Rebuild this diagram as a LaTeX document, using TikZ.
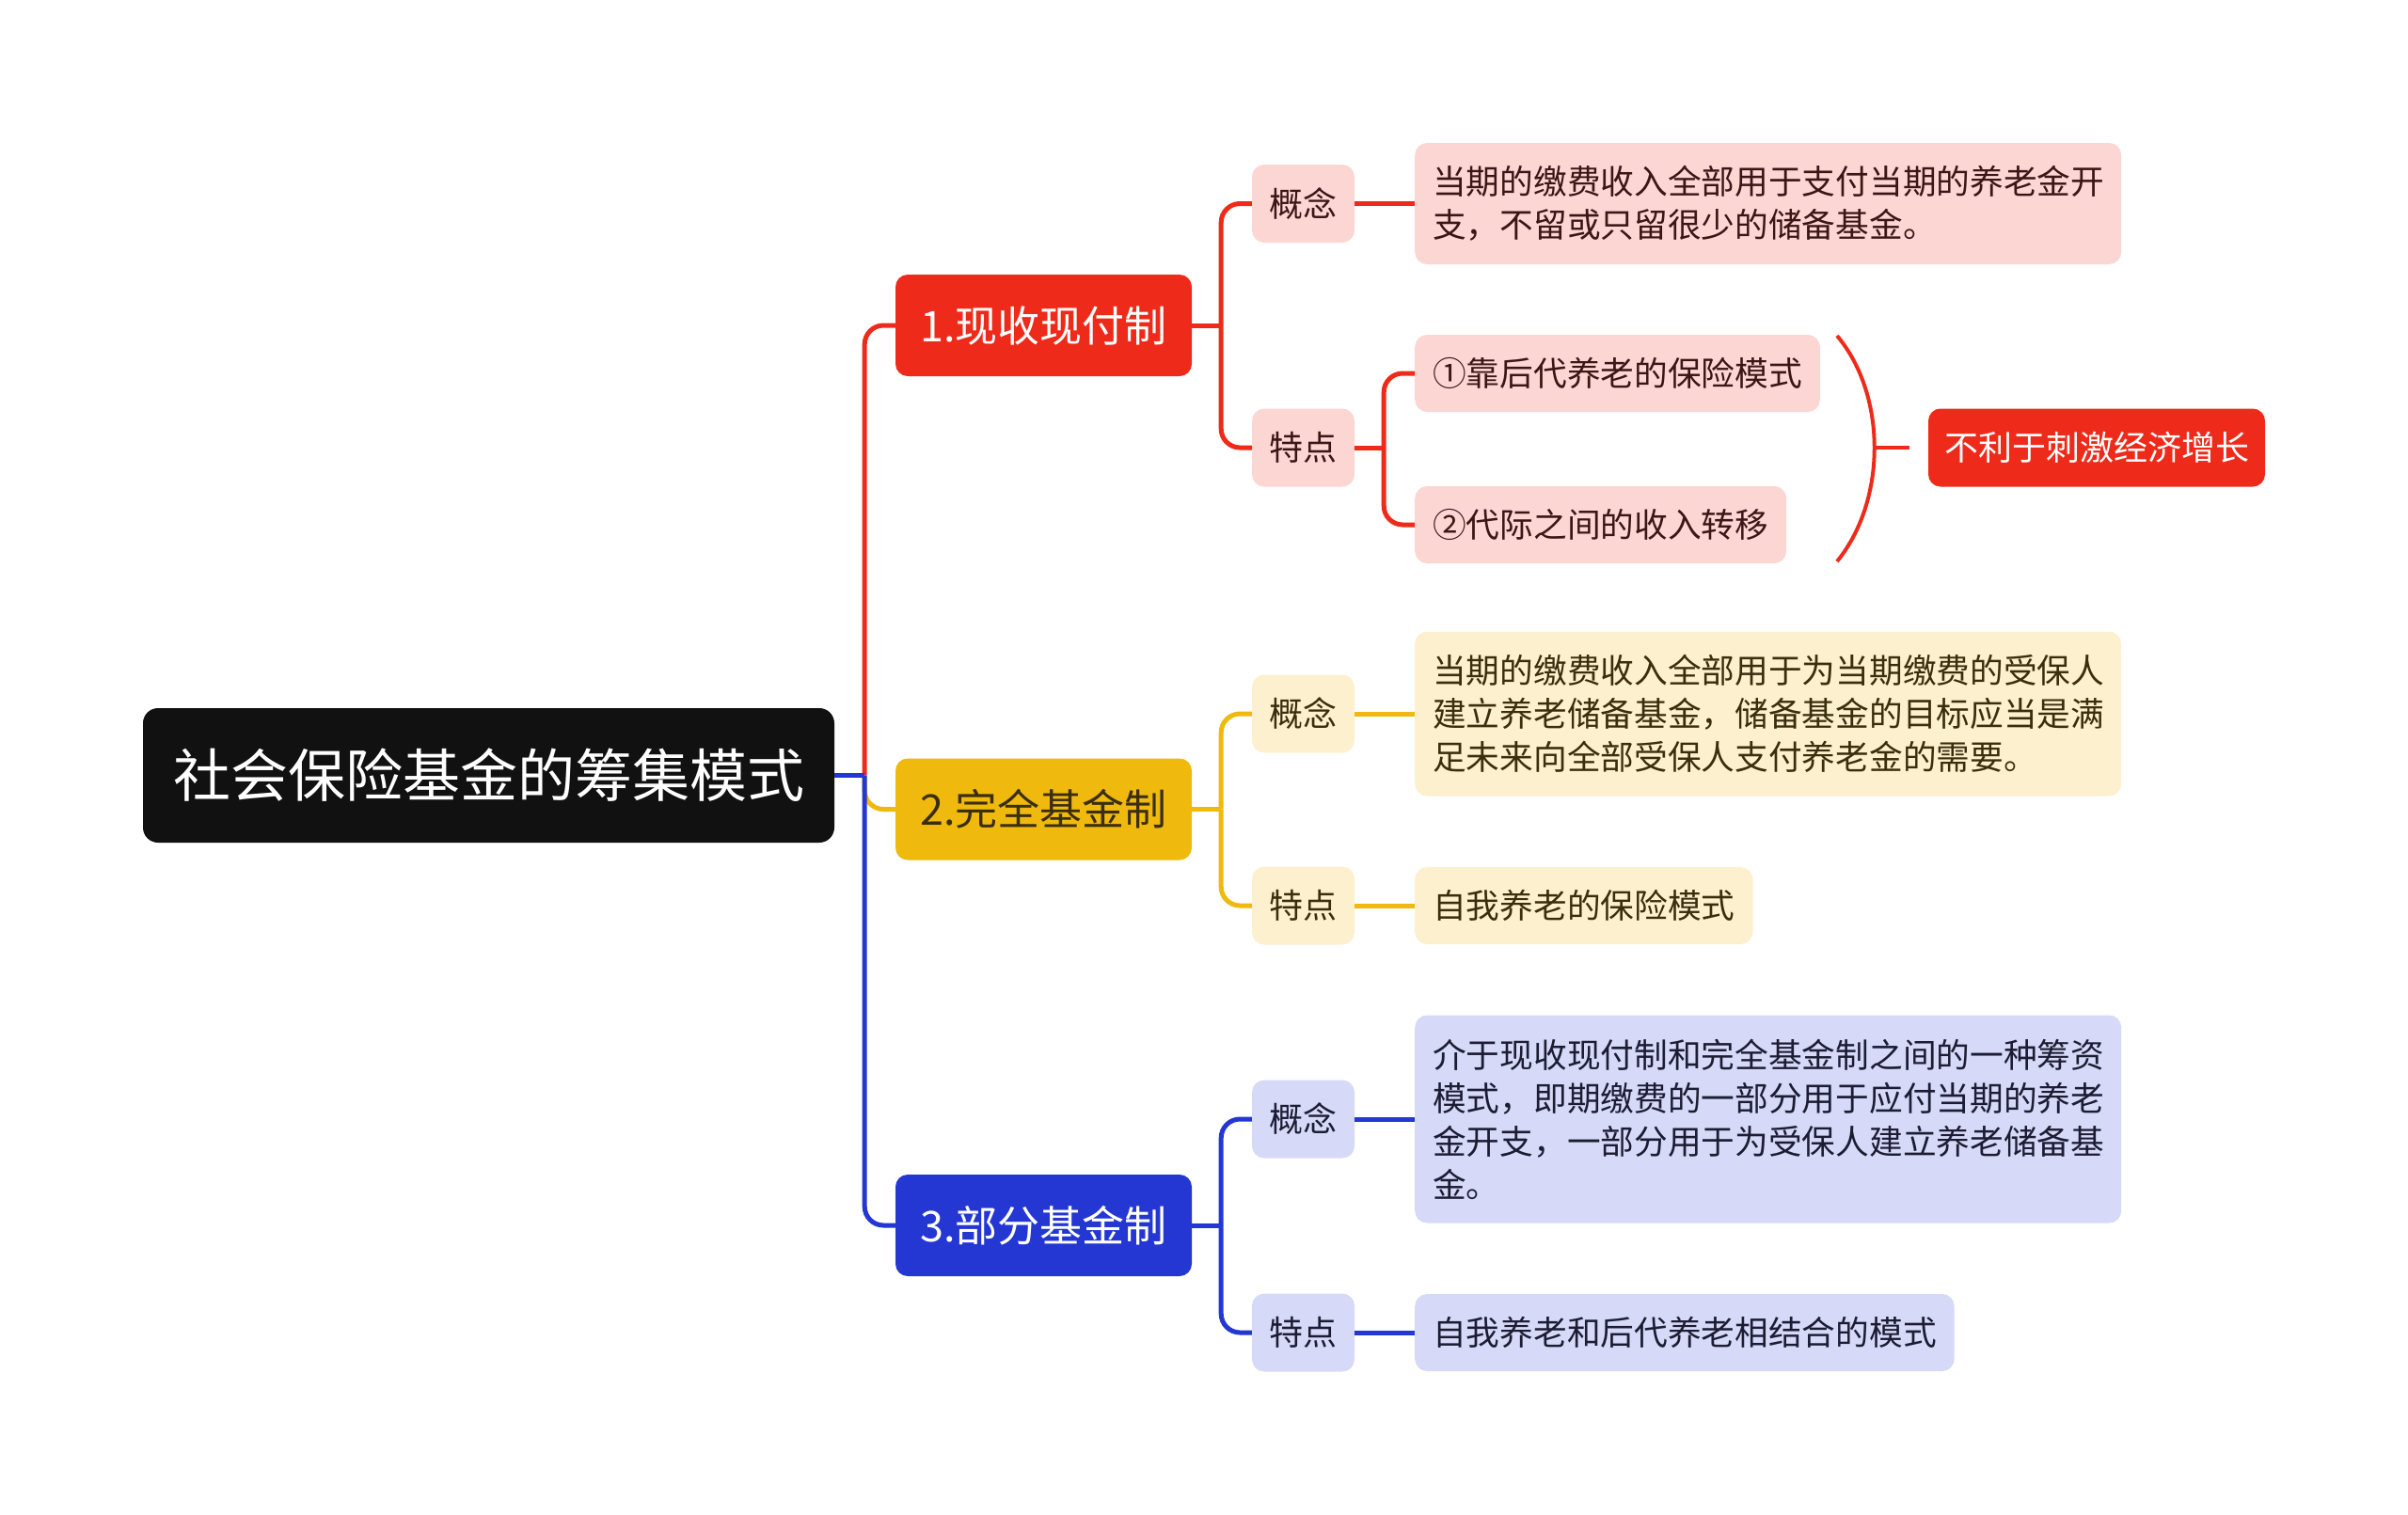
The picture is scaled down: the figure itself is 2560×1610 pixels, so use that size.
\documentclass[tikz,border=0pt]{standalone}
\usepackage{fontspec}
\setmainfont{Noto Sans CJK SC}
\definecolor{cred}{HTML}{EE2B1A}
\definecolor{cyel}{HTML}{F0B90E}
\definecolor{cblu}{HTML}{2437D3}
\definecolor{lred}{HTML}{FCD6D3}
\definecolor{lyel}{HTML}{FDF0CF}
\definecolor{lblu}{HTML}{D6D9F7}
\definecolor{tred}{HTML}{3A1616}
\definecolor{tyel}{HTML}{3A2E0E}
\definecolor{tblu}{HTML}{1C1C33}
\definecolor{rootbg}{HTML}{111111}
\tikzset{
  rootbox/.style={fill=rootbg, text=white, rounded corners=16pt, minimum width=735pt, minimum height=143pt, inner sep=0pt, font=\fontsize{61}{70}\selectfont},
  lvlbox/.style={rounded corners=13pt, minimum width=315pt, minimum height=108pt, inner sep=0pt, font=\fontsize{45}{54}\selectfont},
  tagbox/.style={rounded corners=13pt, minimum width=109pt, minimum height=83pt, inner sep=0pt, font=\fontsize{36}{46}\selectfont},
  txtbox/.style={rounded corners=13pt, inner xsep=19pt, inner ysep=0pt, minimum height=82pt, align=left, font=\fontsize{35.7}{46}\selectfont},
  conn/.style={line width=5pt, rounded corners=20pt},
}
\begin{document}
\begin{tikzpicture}[x=1pt,y=-1pt]
\useasboundingbox (0,0) rectangle (2560,1610);
% root
\node[rootbox] (root) at (519.5,824.5) {社会保险基金的筹集模式};
% level 1
\node[lvlbox, fill=cred, text=white] (n1) at (1109.5,346) {1.现收现付制};
\node[lvlbox, fill=cyel, text=tyel] (n2) at (1109.5,860.5) {2.完全基金制};
\node[lvlbox, fill=cblu, text=white] (n3) at (1109.5,1303) {3.部分基金制};
% branch 1
\node[tagbox, fill=lred, text=tred] (c1) at (1385.5,216.5) {概念};
\node[tagbox, fill=lred, text=tred] (t1) at (1385.5,476) {特点};
\node[txtbox, fill=lred, text=tred, anchor=west, text width=713pt, minimum height=129pt] (c1t) at (1504,216.5) {当期的缴费收入全部用于支付当期的养老金开\\支，不留或只留很少的储备基金。};
\node[txtbox, fill=lred, text=tred, anchor=west] (t1a) at (1504,397) {①靠后代养老的保险模式};
\node[txtbox, fill=lred, text=tred, anchor=west] (t1b) at (1504,558) {②代际之间的收入转移};
\node[tagbox, fill=cred, text=white, minimum width=358pt] (sum) at (2229,476) {不利于刺激经济增长};
% branch 2
\node[tagbox, fill=lyel, text=tyel] (c2) at (1385.5,759) {概念};
\node[tagbox, fill=lyel, text=tyel] (t2) at (1385.5,963) {特点};
\node[txtbox, fill=lyel, text=tyel, anchor=west, text width=713pt, minimum height=175pt] (c2t) at (1504,759) {当期的缴费收入全部用于为当期缴费的受保人\\建立养老储备基金，储备基金的目标应当是满\\足未来向全部受保人支付养老金的需要。};
\node[txtbox, fill=lyel, text=tyel, anchor=west] (t2t) at (1504,963) {自我养老的保险模式};
% branch 3
\node[tagbox, fill=lblu, text=tblu] (c3) at (1385.5,1190) {概念};
\node[tagbox, fill=lblu, text=tblu] (t3) at (1385.5,1417) {特点};
\node[txtbox, fill=lblu, text=tblu, anchor=west, text width=713pt, minimum height=221pt] (c3t) at (1504,1190) {介于现收现付制和完全基金制之间的一种筹资\\模式，即期缴费的一部分用于应付当期的养老\\金开支，一部分用于为受保人建立养老储备基\\金。};
\node[txtbox, fill=lblu, text=tblu, anchor=west] (t3t) at (1504,1417) {自我养老和后代养老相结合的模式};
% junction coordinates
\coordinate (jr) at ([xshift=32pt]root.east);
\coordinate (j1) at ([xshift=31pt]n1.east);
\coordinate (j2) at ([xshift=31pt]n2.east);
\coordinate (j3) at ([xshift=31pt]n3.east);
\coordinate (jt1) at ([xshift=31pt]t1.east);
% root connectors
\draw[conn, cred] (jr) |- (n1.west);
\draw[conn, cyel] (jr) |- (n2.west);
\draw[conn, cblu] (jr) |- (n3.west);
\draw[conn, cblu] (root.east) -- (jr);
% branch 1 connectors
\draw[conn, cred] (n1.east) -- (j1);
\draw[conn, cred] (j1) |- (c1.west);
\draw[conn, cred] (j1) |- (t1.west);
\draw[conn, cred] (c1.east) -- (c1t.west);
\draw[conn, cred] (t1.east) -- (jt1);
\draw[conn, cred] (jt1) |- (t1a.west);
\draw[conn, cred] (jt1) |- (t1b.west);
% bracket
\coordinate (bk) at (1993,476);
\coordinate (bke) at ([xshift=-20pt]sum.west);
\draw[cred, line width=4pt] (1953,357) .. controls (2006,420) and (2006,532) .. (1953,597);
\draw[cred, line width=4pt] (bk) -- (bke);
% branch 2 connectors
\draw[conn, cyel] (n2.east) -- (j2);
\draw[conn, cyel] (j2) |- (c2.west);
\draw[conn, cyel] (j2) |- (t2.west);
\draw[conn, cyel] (c2.east) -- (c2t.west);
\draw[conn, cyel] (t2.east) -- (t2t.west);
% branch 3 connectors
\draw[conn, cblu] (n3.east) -- (j3);
\draw[conn, cblu] (j3) |- (c3.west);
\draw[conn, cblu] (j3) |- (t3.west);
\draw[conn, cblu] (c3.east) -- (c3t.west);
\draw[conn, cblu] (t3.east) -- (t3t.west);
\end{tikzpicture}
\end{document}
